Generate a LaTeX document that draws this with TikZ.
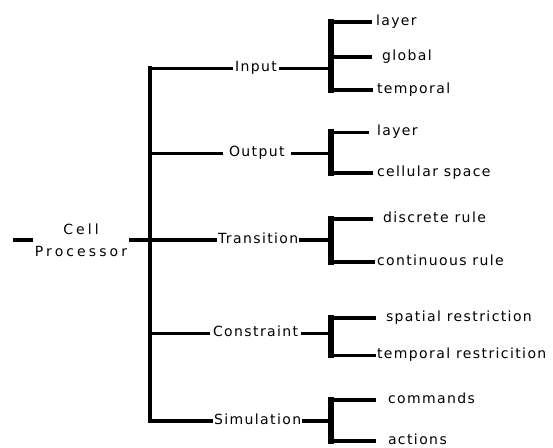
\documentclass[tikz,border=0pt]{standalone}
\usepackage{fontspec}
\setmainfont[LetterSpace=10]{DejaVu Sans}
\newfontfamily\rootfont[LetterSpace=22]{DejaVu Sans}
\tikzstyle{tree}=[
    x=1pt, y=-1pt,
    label text/.style={font={\fontsize{14}{17}\selectfont},anchor=west,inner ysep=0pt,outer sep=0pt,text height=7.5pt,text depth=0pt},
    leaf/.style={label text},
    root/.style={font={\rootfont\fontsize{14}{22}\selectfont},align=center,inner xsep=2pt,inner ysep=0pt,outer sep=0pt},
    link/.style={line width=3pt},
    heavy/.style={line width=4.8pt},
    trunk/.style={line width=3.8pt,line cap=rect},
    bracket/.style={line width=5.5pt,line cap=rect},
]
\newcommand{\fork}[3]{
    % parent, style of the line to the fork, leaves
    \coordinate (#1 fork) at (#1.west -| 331,0);
    \draw[#2] (#1.east) -- (#1 fork);
    \foreach \n/\y/\e/\g/\s/\t in {#3}{
        \node[leaf,inner xsep=\g pt] (\n) at (\e,\y) {\t};
        \draw[bracket] (#1 fork) -- (\n.west -| #1 fork);
        \draw[\s] (\n.west -| #1 fork) -- (\n.west);
    }
}

\begin{document}
\begin{tikzpicture}[tree]
    \useasboundingbox (0,0) rectangle (553,447);
    \node[root] (cell) at (81,240) {Cell\\Processor};
    \coordinate (entry) at (13,240);
    \coordinate (bus) at (150,240);
    \draw[heavy] (entry) -- (cell.west);
    \draw[heavy] (cell.east) -- (bus);
    \foreach \n/\x/\y/\g/\t in {input/233/68/2/Input, output/223/153/6/Output,
        transition/217/240/1/Transition, constraint/210/333/3/Constraint,
        simulation/213/421/1/Simulation}
        \node[label text,inner xsep=\g pt] (\n) at (\x,\y) {\t};
    \draw[trunk] (bus |- input.west) -- (bus |- simulation.west);
    \foreach \n/\s in {input/link, output/link, transition/heavy, constraint/link, simulation/heavy}
        \draw[\s] (bus |- \n.west) -- (\n.west);
    \fork{input}{link}{inLayer/22/372/4/heavy/layer, inGlobal/57/372/10/heavy/global,
        inTemporal/90/373/4/heavy/temporal}
    \fork{output}{link}{outLayer/132/369/8/link/layer, outCell/173/373/4/heavy/cellular space}
    \fork{transition}{heavy}{trDiscrete/219/373/10/heavy/discrete rule,
        trContinuous/262/375/2/heavy/continuous rule}
    \fork{constraint}{link}{coSpatial/318/376/10/heavy/spatial restriction,
        coTemporal/355/376/1/link/temporal restricition}
    \fork{simulation}{heavy}{siCommands/400/376/12/heavy/commands, siActions/441/376/12/heavy/actions}
\end{tikzpicture}
\end{document}
